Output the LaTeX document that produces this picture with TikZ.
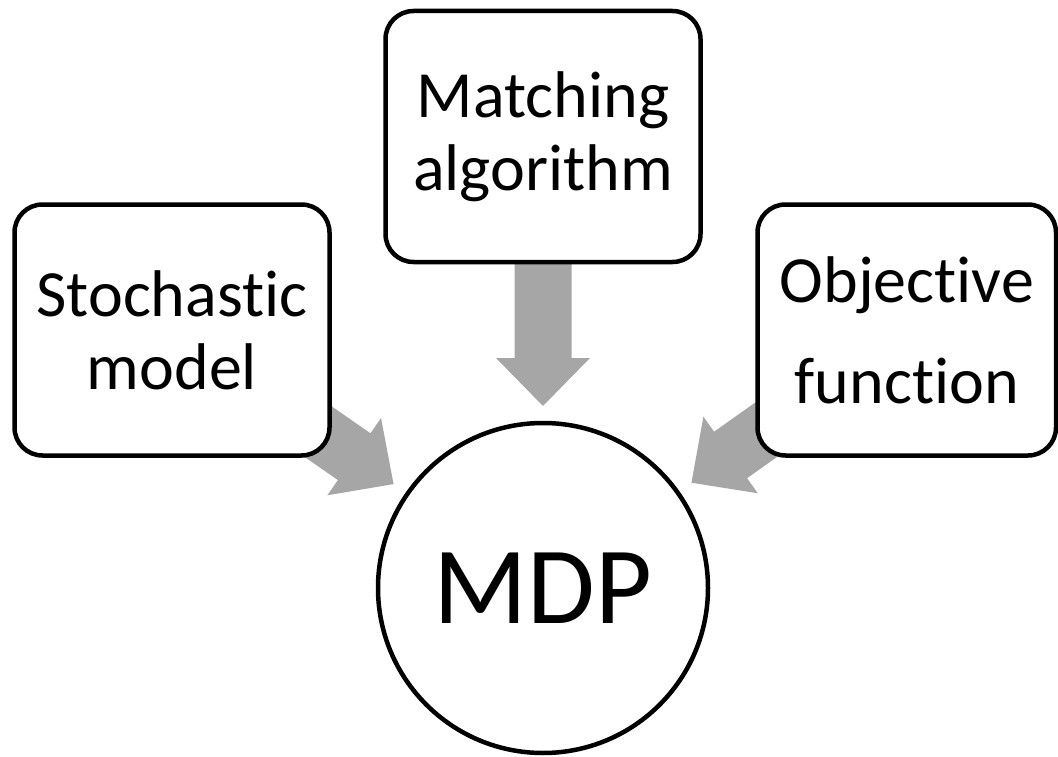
\documentclass[tikz,border=0pt]{standalone}
\usepackage{fontspec}
\newfontfamily\labelfont[Ligatures=NoCommon]{Carlito}
\usetikzlibrary{calc,backgrounds}

% keep "t" and "i" as separate glyphs
\newcommand\ti{t\kern0pt i}

\tikzset{
  inputbox/.style={draw=black, line width=4.5pt, fill=white, rounded corners=28pt,
    minimum width=315pt, minimum height=251pt, inner sep=0pt, align=center,
    font=\labelfont\fontsize{66}{73}\selectfont},
  hub/.style={draw=black, line width=4.5pt, fill=white, circle, minimum size=330pt,
    inner sep=0pt, font=\labelfont\fontsize{110}{120}\selectfont},
  arrowfill/.style={fill=arrowgray},
}
\definecolor{arrowgray}{HTML}{A6A6A6}

% Fat block arrow from the centre of #1 towards the centre of #2,
% its tip stopping short of #2's outline.
\newcommand\blockarrow[2]{%
  \coordinate (#1-tip) at ($(#2.center)!182pt!(#1.center)$);
  \coordinate (#1-hb) at ($(#1-tip)!48pt!(#1.center)$);
  \fill[arrowfill]
    ($(#1.center)!28.5pt!90:(#1-tip)$) --
    ($(#1-hb)!28.5pt!90:(#1-tip)$) --
    ($(#1-hb)!47pt!90:(#1-tip)$) --
    (#1-tip) --
    ($(#1-hb)!47pt!-90:(#1-tip)$) --
    ($(#1-hb)!28.5pt!-90:(#1-tip)$) --
    ($(#1.center)!28.5pt!-90:(#1-tip)$) -- cycle;
}

\begin{document}
\begin{tikzpicture}[x=1pt,y=-1pt]
  \useasboundingbox (0,0) rectangle (1058,757);

  \node[inputbox] (match) at (543,136.5) {Matching\\algorithm};
  \node[inputbox] (stoch) at (172,330) {Stochas\ti c\\model};
  \node[inputbox, minimum width=298.5pt, font=\labelfont\fontsize{66}{101}\selectfont]
    (obj) at (906.75,330) {Objec\ti ve\\func\ti on};
  \node[hub] (mdp) at (543,588) {MDP};

  \begin{scope}[on background layer]
    \blockarrow{match}{mdp}
    \blockarrow{stoch}{mdp}
    \blockarrow{obj}{mdp}
  \end{scope}
\end{tikzpicture}
\end{document}
